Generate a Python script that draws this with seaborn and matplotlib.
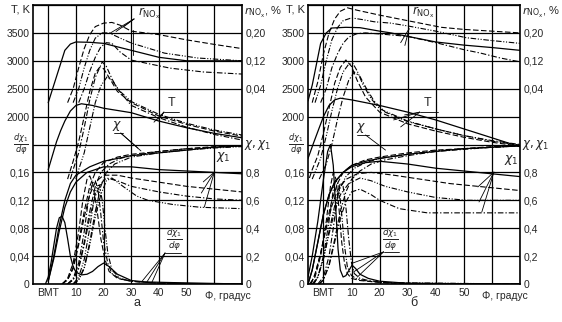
import numpy as np
import seaborn as sns
import matplotlib.pyplot as plt

# кривые: (угол, градус п.к.в.; значение)
# ---------------- панель а ----------------
a_T_solid = [(0, 1050), (1.5, 1300), (3, 1550), (4.5, 1750), (6, 1920), (8, 2100), (10, 2200), (12, 2230),
             (16, 2200), (20, 2150), (30, 2070), (40, 1920), (50, 1800), (60, 1700), (70, 1620)]
a_T_dash = [(7, 880), (9, 1200), (11, 1550), (13, 2000), (15, 2450), (17, 2780),
            (18.5, 2880), (20, 2860), (22, 2700), (25, 2450), (30, 2250), (40, 2010), (50, 1860), (60, 1740), (70, 1650)]
a_T_dashdot = [(8, 880), (9, 1050), (11, 1350), (13, 1800), (15, 2300), (17, 2700), (19.5, 2980),
               (21, 2900), (23, 2680), (25, 2500), (30, 2200), (40, 1980), (50, 1810), (60, 1680), (70, 1580)]
a_T_dashdotdot = [(10, 880), (11, 1050), (13, 1350), (15, 1800), (17, 2250), (19, 2550), (21.3, 2715),
                  (23, 2650), (26, 2450), (30, 2270), (40, 2040), (50, 1880), (60, 1760), (70, 1670)]

a_r_solid = [(0, 0.0), (2, 0.05), (4, 0.1), (6, 0.15), (8, 0.168), (10, 0.174), (15, 0.173), (20, 0.17),
             (25, 0.16), (30, 0.15), (40, 0.13), (50, 0.12), (60, 0.12), (70, 0.12)]
a_r_dash = [(7, 0.0), (9, 0.04), (11, 0.1), (13, 0.155), (15, 0.195), (17, 0.218), (20, 0.228), (23, 0.23),
            (26, 0.222), (30, 0.205), (40, 0.195), (50, 0.18), (60, 0.167), (70, 0.155)]
a_r_dashdotdot = [(9, 0.0), (11, 0.04), (13, 0.1), (15, 0.15), (17, 0.185), (19.5, 0.2), (22, 0.2), (26, 0.185),
                  (30, 0.171), (42, 0.142), (54, 0.128), (70, 0.12)]
a_r_dashdot = [(11, 0.0), (13, 0.04), (15, 0.09), (17, 0.13), (19, 0.16), (21, 0.172), (23, 0.17), (26, 0.145),
               (30, 0.122), (44, 0.099), (56, 0.088), (70, 0.082)]

a_x_solid = [(0, 0.02), (2, 0.2), (4, 0.42), (6, 0.6), (8, 0.72), (10, 0.78), (15, 0.84), (20, 0.88), (30, 0.92),
             (40, 0.94), (50, 0.96), (60, 0.98), (70, 0.99)]
a_x_dash = [(5, 0.0), (7, 0.03), (9, 0.12), (11, 0.3), (13, 0.52), (15, 0.7), (17, 0.8), (20, 0.87), (25, 0.91),
            (30, 0.93), (40, 0.95), (50, 0.97), (60, 0.985), (70, 0.99)]
a_x_dashdot = [(7, 0.0), (9, 0.03), (11, 0.12), (13, 0.3), (15, 0.52), (17, 0.7), (19, 0.8), (22, 0.86), (26, 0.9),
               (30, 0.92), (40, 0.95), (50, 0.97), (60, 0.98), (70, 0.99)]
a_x_dashdotdot = [(9, 0.0), (11, 0.03), (13, 0.12), (15, 0.3), (17, 0.52), (19, 0.7), (21, 0.8), (24, 0.86),
                  (30, 0.91), (40, 0.94), (50, 0.96), (60, 0.975), (70, 0.985)]

a_x1_solid = [(0, 0.02), (2, 0.18), (4, 0.38), (6, 0.55), (8, 0.66), (10, 0.73), (14, 0.8), (20, 0.84), (30, 0.84),
              (40, 0.82), (50, 0.81), (60, 0.8), (70, 0.79)]
a_x1_dash = [(5, 0.0), (7, 0.03), (9, 0.11), (11, 0.28), (13, 0.48), (15, 0.64), (17, 0.73), (20, 0.78), (25, 0.78),
             (30, 0.76), (40, 0.73), (50, 0.7), (60, 0.68), (70, 0.66)]
a_x1_dashdot = [(7, 0.0), (9, 0.03), (11, 0.11), (13, 0.28), (15, 0.48), (17, 0.63), (19, 0.72), (21, 0.76),
                (25, 0.74), (30, 0.7), (40, 0.66), (50, 0.63), (60, 0.61), (70, 0.6)]
a_x1_dashdotdot = [(9, 0.0), (11, 0.03), (13, 0.11), (15, 0.28), (17, 0.48), (19, 0.64), (21, 0.74), (23, 0.76),
                   (27, 0.7), (32, 0.63), (36, 0.6), (45, 0.57), (55, 0.55), (70, 0.54)]

a_dx_solid = [(-1, 0.0), (0, 0.01), (1, 0.03), (2, 0.055), (3, 0.08), (4, 0.095), (5, 0.097), (6, 0.088),
              (7, 0.065), (8, 0.04), (9, 0.025), (10, 0.017), (12, 0.013), (14, 0.014), (16, 0.018), (18, 0.025),
              (20, 0.03), (22, 0.025), (25, 0.014), (30, 0.005), (35, 0.003), (45, 0.002), (70, 0.0)]
a_dx_dash = [(5, 0.0), (7, 0.008), (9, 0.03), (11, 0.075), (12.5, 0.12), (14, 0.15), (15, 0.155), (16, 0.145),
             (17.5, 0.11), (19, 0.065), (20.5, 0.035), (22, 0.018), (25, 0.008), (30, 0.004), (40, 0.001), (70, 0.0)]
a_dx_dashdot = [(7, 0.0), (9, 0.008), (11, 0.03), (13, 0.075), (14.5, 0.12), (16, 0.145), (17, 0.148), (18, 0.135),
                (19, 0.1), (20, 0.06), (21.5, 0.03), (23, 0.015), (26, 0.007), (30, 0.004), (40, 0.001), (70, 0.0)]
a_dx_dashdotdot = [(9, 0.0), (11, 0.01), (13, 0.035), (15, 0.08), (16.5, 0.12), (17.5, 0.14), (18.5, 0.142),
                   (19.5, 0.12), (20.5, 0.08), (21.5, 0.045), (23, 0.02), (26, 0.008), (30, 0.004), (40, 0.001), (70, 0.0)]

# ---------------- панель б ----------------
b_T_solid = [(-5.5, 1250), (-3.5, 1530), (-1.5, 1800), (0, 2000), (2, 2200), (4, 2300), (6, 2330), (10, 2300),
             (20, 2200), (30, 2080), (40, 1940), (50, 1780), (60, 1620), (70, 1460)]
b_T_dash = [(-5, 900), (-4, 1050), (-2, 1300), (0, 1700), (2, 2150), (4, 2600), (6, 2880), (8, 3015), (10, 2900),
            (12, 2650), (15, 2350), (20, 2080), (30, 1870), (40, 1740), (50, 1630), (60, 1540), (70, 1470)]
b_T_dashdotdot = [(-4, 880), (-1, 1250), (1, 1650), (3, 2100), (5, 2500), (7, 2800), (9, 2940),
                  (10.5, 2950), (12, 2820), (14, 2580), (17, 2320), (20, 2140), (30, 1920), (40, 1780), (50, 1660),
                  (60, 1560), (70, 1490)]
b_T_dashdot = [(-1.5, 880), (1, 1150), (3, 1500), (5, 1950), (7, 2350), (9, 2650), (11, 2800),
               (13, 2720), (15, 2530), (18, 2280), (22, 2080), (30, 1910), (40, 1780), (50, 1660), (60, 1570), (70, 1500)]

b_r_solid = [(-5.5, 0.005), (-4, 0.05), (-2.5, 0.11), (-1, 0.17), (1, 0.2), (3, 0.214), (8, 0.216), (13, 0.215),
             (20, 0.205), (24, 0.2), (30, 0.19), (40, 0.174), (50, 0.165), (60, 0.158), (70, 0.15)]
b_r_dash = [(-4, 0.0), (-2, 0.06), (0, 0.14), (2, 0.2), (4, 0.24), (6, 0.262), (8.5, 0.272), (12, 0.265),
            (16, 0.258), (20, 0.251), (30, 0.235), (42, 0.216), (50, 0.21), (60, 0.205), (70, 0.2)]
b_r_dashdotdot = [(-3, 0.0), (-1, 0.05), (1, 0.12), (3, 0.18), (5, 0.215), (7, 0.235), (10, 0.243), (14, 0.238),
                  (18, 0.232), (24, 0.228), (30, 0.22), (40, 0.205), (51, 0.186), (60, 0.178), (70, 0.17)]
b_r_dashdot = [(-1, 0.0), (1, 0.04), (3, 0.1), (5, 0.14), (7, 0.17), (9, 0.188), (12, 0.198), (15, 0.2),
               (20, 0.197), (30, 0.19), (40, 0.172), (50, 0.152), (56, 0.142), (63, 0.128), (70, 0.117)]

b_x_solid = [(-5.5, 0.0), (-4, 0.1), (-2, 0.3), (0, 0.5), (2, 0.64), (4, 0.73), (7, 0.8), (10, 0.85), (15, 0.88),
             (20, 0.9), (30, 0.93), (40, 0.95), (50, 0.97), (60, 0.98), (70, 0.99)]
b_x_dash = [(-4.5, 0.0), (-3, 0.07), (-1, 0.22), (1, 0.42), (3, 0.6), (5, 0.72), (7, 0.8), (10, 0.85), (15, 0.89),
            (20, 0.91), (30, 0.94), (40, 0.96), (50, 0.97), (60, 0.985), (70, 0.99)]
b_x_dashdotdot = [(-3.5, 0.0), (-2, 0.05), (0, 0.18), (2, 0.38), (4, 0.56), (6, 0.69), (8, 0.77), (11, 0.83),
                  (15, 0.87), (20, 0.9), (30, 0.93), (40, 0.955), (50, 0.97), (60, 0.98), (70, 0.99)]
b_x_dashdot = [(-1.5, 0.0), (0, 0.03), (2, 0.14), (4, 0.32), (6, 0.52), (8, 0.66), (10, 0.75), (13, 0.81),
               (17, 0.86), (22, 0.89), (30, 0.92), (40, 0.95), (50, 0.965), (60, 0.98), (70, 0.99)]

b_x1_solid = [(-5.5, 0.0), (-4, 0.1), (-2, 0.3), (0, 0.5), (2, 0.64), (4, 0.73), (7, 0.8), (10, 0.84), (15, 0.87),
              (20, 0.88), (30, 0.86), (40, 0.83), (50, 0.81), (60, 0.79), (70, 0.77)]
b_x1_dash = [(-4.5, 0.0), (-3, 0.07), (-1, 0.22), (1, 0.4), (3, 0.56), (5, 0.67), (8, 0.75), (12, 0.79), (17, 0.8),
             (25, 0.78), (35, 0.75), (45, 0.72), (55, 0.7), (70, 0.67)]
b_x1_dashdotdot = [(-3.5, 0.0), (-2, 0.05), (0, 0.18), (2, 0.36), (4, 0.52), (6, 0.64), (9, 0.72), (13, 0.76),
                   (17, 0.74), (22, 0.7), (30, 0.66), (40, 0.62), (51, 0.6), (60, 0.6), (70, 0.6)]
b_x1_dashdot = [(-1.5, 0.0), (0, 0.03), (2, 0.13), (4, 0.3), (6, 0.47), (8, 0.59), (10, 0.66), (13, 0.68),
                (17, 0.64), (20, 0.6), (27, 0.54), (37, 0.51), (50, 0.51), (60, 0.51), (70, 0.51)]

b_dx_solid = [(-5.5, 0.01), (-4, 0.04), (-2, 0.09), (0, 0.15), (1.5, 0.19), (2.5, 0.2), (3.5, 0.17), (4.5, 0.1),
              (5.2, 0.05), (6, 0.02), (7, 0.01), (8, 0.012), (9, 0.019), (10.2, 0.027), (11.5, 0.022), (13, 0.014),
              (16, 0.008), (20, 0.004), (30, 0.001), (70, 0.0)]
b_dx_dash = [(-5, 0.0), (-3, 0.01), (-1, 0.04), (1, 0.09), (2.5, 0.14), (3.5, 0.16), (4.5, 0.15), (5.5, 0.11),
             (6.5, 0.06), (7.5, 0.03), (8.5, 0.015), (10, 0.008), (13, 0.005), (18, 0.003), (25, 0.001), (70, 0.0)]
b_dx_dashdotdot = [(-4, 0.0), (-2, 0.01), (0, 0.04), (2, 0.09), (3.5, 0.135), (4.5, 0.15), (5.5, 0.14), (6.5, 0.1),
                   (7.5, 0.055), (8.5, 0.025), (10, 0.012), (12, 0.007), (16, 0.004), (22, 0.002), (70, 0.0)]
b_dx_dashdot = [(-2, 0.0), (0, 0.01), (2, 0.04), (3.5, 0.08), (5, 0.125), (6, 0.145), (7, 0.14), (8, 0.11),
                (9, 0.065), (10, 0.03), (11, 0.015), (13, 0.008), (16, 0.005), (22, 0.002), (30, 0.001), (70, 0.0)]

# шкалы
dx_ticks = [0, 0.04, 0.08, 0.12, 0.16]
T_ticks = [2000, 2500, 3000, 3500]
x_ticks = [0, 0.2, 0.4, 0.6, 0.8]
r_ticks = [0.04, 0.12, 0.20]
phi_labels = ["ВМТ", "10", "20", "30", "40", "50"]

# типы линий для четырех режимов
styles = {
    "solid": "-",
    "dash": (0, (5, 2.2)),
    "dashdot": (0, (5, 1.8, 1.2, 1.8)),
    "dashdotdot": (0, (5, 1.5, 1, 1.5, 1, 1.5)),
}


def comma(v, nd):
    return "0" if v == 0 else f"{v:.{nd}f}".replace(".", ",")


def curve(axis, pts, style):
    pts = np.array(pts)
    sns.lineplot(x=pts[:, 0], y=pts[:, 1], ax=axis, color="black", linestyle=styles[style],
                 linewidth=0.9 if style == "solid" else 0.8, sort=False, estimator=None)


def lead(ax, p0, p1):
    # линия-выноска, координаты в долях сетки (одна клетка = 0,04)
    ax.plot([p0[0], p1[0]], [p0[1] * 0.04, p1[1] * 0.04], color="black", lw=0.6)


def panel(ax, data, leaders, labels, letter):
    ax.set_xlim(-5.5, 70)
    ax.set_ylim(0, 0.4)
    axT = ax.twinx()
    axT.set_ylim(-1000, 4000)
    axC = ax.twinx()
    axC.set_ylim(0, 2)
    axR = ax.twinx()
    axR.set_ylim(-0.52, 0.28)
    where = {"T": axT, "r": axR, "x": axC, "x1": axC, "dx": ax}
    for fam, style, pts in data:
        curve(where[fam], pts, style)

    ax.set_xticks([0, 10, 20, 30, 40, 50, 60, 70])
    ax.set_xticklabels(phi_labels + ["", ""])
    ax.set_yticks(np.arange(11) * 0.04)
    ax.set_yticklabels([comma(v, 2) for v in dx_ticks] + [""] * 6)
    ax.grid(True, color="black", lw=0.9)
    ax.set_xlabel("")
    ax.set_ylabel("")

    axT.yaxis.tick_left()
    axT.set_yticks(T_ticks)
    axT.set_yticklabels([str(t) for t in T_ticks])
    axC.set_yticks(x_ticks)
    axC.set_yticklabels([comma(v, 1) for v in x_ticks])
    axR.set_yticks(r_ticks)
    axR.set_yticklabels([comma(v, 2) for v in r_ticks])
    for a in (axT, axC, axR):
        a.set_ylabel("")
        for s in a.spines.values():
            s.set_visible(False)
    for a in (ax, axT, axC, axR):
        a.tick_params(length=0, pad=2.5, labelsize=7.5)
    ax.tick_params(axis="x", pad=3)
    for s in ax.spines.values():
        s.set_visible(True)
        s.set_linewidth(1.2)
        s.set_color("black")

    ax.text(56.5, -0.017, "Φ, градус", fontsize=7.5, ha="left", va="center")
    ax.text(-0.02, 0.5, r"$\frac{d\chi_1}{d\varphi}$", transform=ax.transAxes, fontsize=8.5,
            ha="right", va="center")
    ax.text(1.01, 0.5, r"$\chi,\chi_1$", transform=ax.transAxes, fontsize=8.5, ha="left", va="center")
    ax.text(-0.015, 1.0, "T, K", transform=ax.transAxes, fontsize=8, ha="right", va="top")
    ax.text(1.01, 1.0, r"$r_{\mathrm{NO_x}}$, %", transform=ax.transAxes, fontsize=8, ha="left", va="top")
    ax.text(0.5, -0.068, letter, transform=ax.transAxes, fontsize=9, ha="center", va="center")

    for p0, p1 in leaders:
        lead(ax, p0, p1)
    for txt, (px, py), fs in labels:
        ax.text(px, py * 0.04, txt, fontsize=fs, ha="center", va="center")


sns.set_style("white")
plt.rcParams["font.family"] = ["Liberation Sans", "DejaVu Sans"]
plt.rcParams["mathtext.fontset"] = "dejavusans"

fig = plt.figure(figsize=(5.62, 3.22), dpi=100)
ax_a = fig.add_axes([33 / 562, 38 / 322, 209 / 562, 279 / 322])
ax_b = fig.add_axes([308 / 562, 38 / 322, 212 / 562, 279 / 322])

data_a = [
    ("T", "solid", a_T_solid), ("T", "dash", a_T_dash), ("T", "dashdot", a_T_dashdot), ("T", "dashdotdot", a_T_dashdotdot),
    ("r", "solid", a_r_solid), ("r", "dash", a_r_dash), ("r", "dashdot", a_r_dashdot), ("r", "dashdotdot", a_r_dashdotdot),
    ("x", "solid", a_x_solid), ("x", "dash", a_x_dash), ("x", "dashdot", a_x_dashdot), ("x", "dashdotdot", a_x_dashdotdot),
    ("x1", "solid", a_x1_solid), ("x1", "dash", a_x1_dash), ("x1", "dashdot", a_x1_dashdot), ("x1", "dashdotdot", a_x1_dashdotdot),
    ("dx", "solid", a_dx_solid), ("dx", "dash", a_dx_dash), ("dx", "dashdot", a_dx_dashdot), ("dx", "dashdotdot", a_dx_dashdotdot),
]
data_b = [
    ("T", "solid", b_T_solid), ("T", "dash", b_T_dash), ("T", "dashdot", b_T_dashdot), ("T", "dashdotdot", b_T_dashdotdot),
    ("r", "solid", b_r_solid), ("r", "dash", b_r_dash), ("r", "dashdot", b_r_dashdot), ("r", "dashdotdot", b_r_dashdotdot),
    ("x", "solid", b_x_solid), ("x", "dash", b_x_dash), ("x", "dashdot", b_x_dashdot), ("x", "dashdotdot", b_x_dashdotdot),
    ("x1", "solid", b_x1_solid), ("x1", "dash", b_x1_dash), ("x1", "dashdot", b_x1_dashdot), ("x1", "dashdotdot", b_x1_dashdotdot),
    ("dx", "solid", b_dx_solid), ("dx", "dash", b_dx_dash), ("dx", "dashdot", b_dx_dashdot), ("dx", "dashdotdot", b_dx_dashdotdot),
]

leaders_a = [
    ((31, 9.5), (22.5, 9.0)), ((31, 9.5), (24.5, 9.05)), ((31, 9.5), (27, 9.2)), ((30.5, 9.1), (30.5, 8.2)),
    ((41.8, 6.16), (47.3, 6.16)), ((41.8, 6.16), (38.2, 5.8)), ((41.8, 6.16), (39.6, 5.9)), ((41.8, 6.16), (40.7, 6.0)),
    ((23.6, 5.41), (26.9, 5.41)), ((26.2, 5.41), (32.4, 4.87)), ((26.2, 5.41), (33.5, 4.77)),
    ((60, 4.01), (56, 3.66)), ((60, 4.01), (55.3, 3.26)), ((60, 4.01), (56.4, 2.76)),
    ((42.2, 1.11), (48, 1.11)), ((42.2, 1.11), (33.5, 0.05)), ((42.2, 1.11), (35.5, 0.05)), ((42.2, 1.11), (37.5, 0.07)),
]
labels_a = [
    (r"$r_{\mathrm{NO_x}}$", (36.4, 9.72), 8.5), ("T", (44.7, 6.5), 9), (r"$\chi$", (25, 5.65), 9),
    (r"$\chi_1$", (63.3, 4.55), 9), (r"$\frac{d\chi_1}{d\varphi}$", (45.5, 1.6), 9),
]
leaders_b = [
    ((30.5, 9.15), (27.5, 8.65)), ((30.5, 9.15), (29, 8.55)),
    ((34.3, 6.16), (40.7, 6.16)), ((34.3, 6.16), (25, 5.88)), ((34.3, 6.16), (27.5, 5.63)), ((34.3, 6.16), (28.9, 6.06)),
    ((11.8, 5.34), (16.1, 5.34)), ((15, 5.34), (22.1, 4.8)),
    ((60.7, 4.01), (55, 3.48)), ((60.7, 4.01), (55.4, 2.94)), ((60.7, 4.01), (56.4, 2.58)),
    ((21.4, 1.15), (26.8, 1.15)), ((21.4, 1.15), (10.4, 0.75)), ((21.4, 1.15), (10.7, 0.43)), ((21.4, 1.15), (12.1, 0.25)),
]
labels_b = [
    (r"$r_{\mathrm{NO_x}}$", (35.5, 9.75), 8.5), ("T", (37.1, 6.5), 9), (r"$\chi$", (13.6, 5.6), 9),
    (r"$\chi_1$", (66.8, 4.44), 9), (r"$\frac{d\chi_1}{d\varphi}$", (23.9, 1.6), 9),
]

panel(ax_a, data_a, leaders_a, labels_a, "а")
panel(ax_b, data_b, leaders_b, labels_b, "б")

fig.savefig("out.png", dpi=100)
